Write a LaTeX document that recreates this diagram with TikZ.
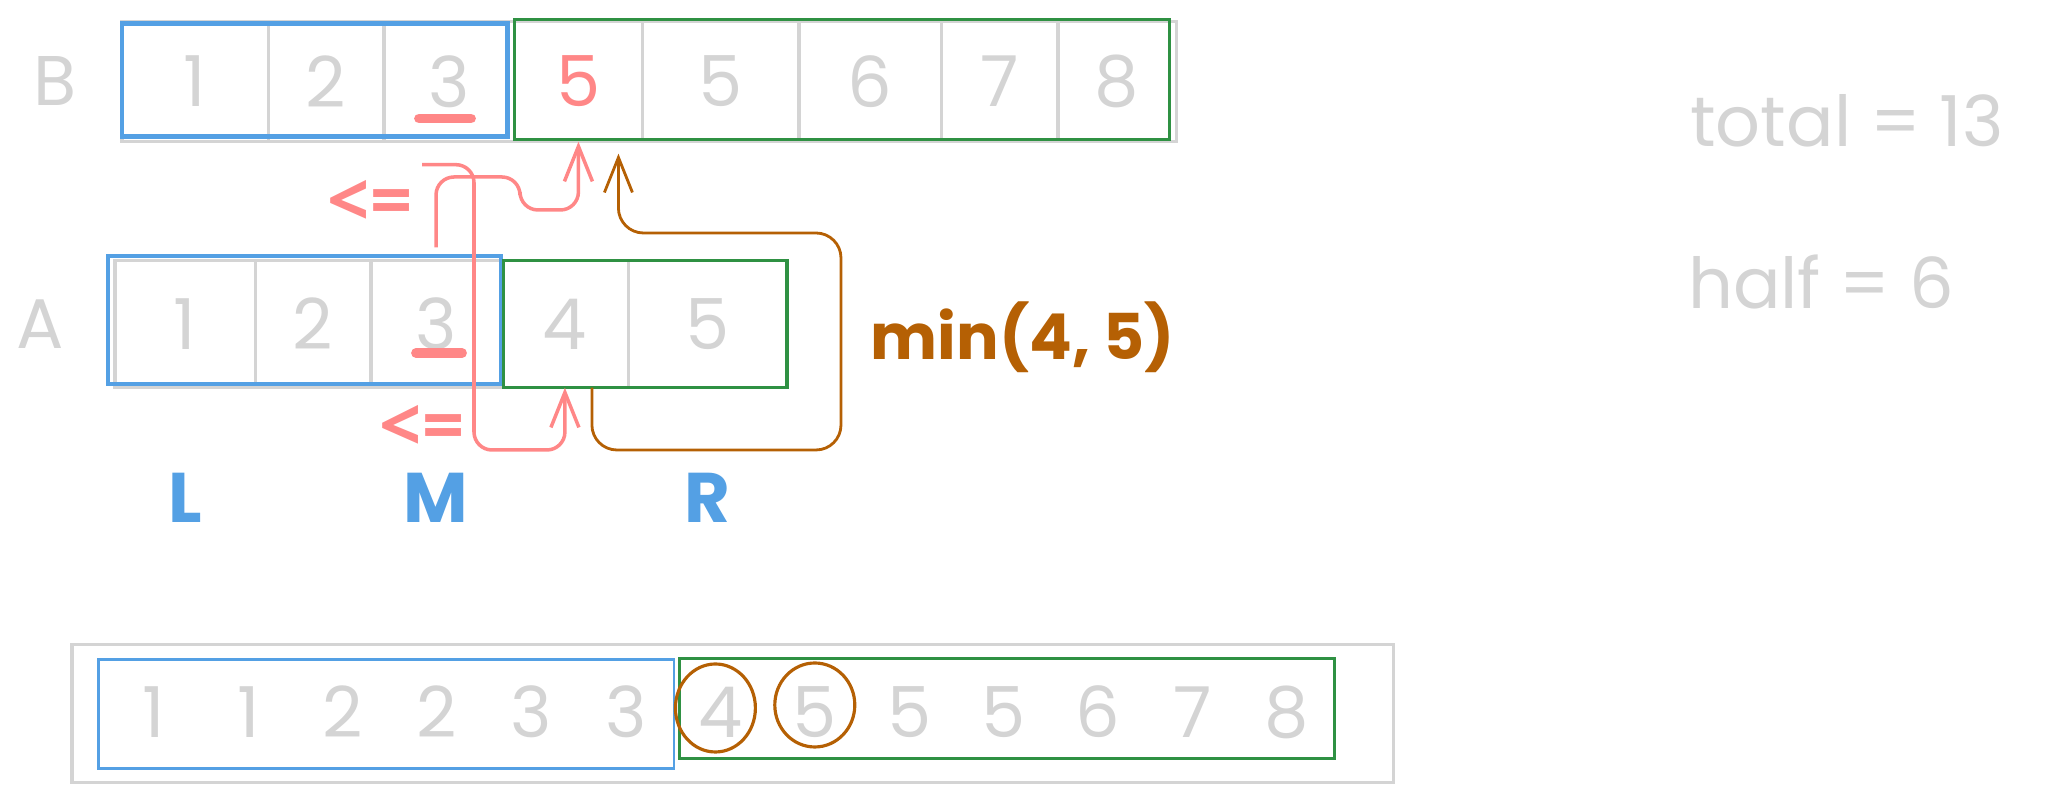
\documentclass[tikz,border=0pt]{standalone}
\usepackage{fontspec}
\setmainfont{Poppins}
\newfontfamily\relfont{Open Sans}
\usepackage{tikz}
\usetikzlibrary{arrows.meta}
\usetikzlibrary{positioning}
\definecolor{skblue}{RGB}{84,160,228}
\definecolor{skgreen}{RGB}{47,145,67}
\definecolor{skred}{RGB}{255,135,135}
\definecolor{skbrown}{RGB}{181,96,4}
\definecolor{skgray}{RGB}{212,212,212}
\newcommand{\handfont}{\fontsize{20}{24}\selectfont}
\tikzstyle{every node}+=[inner sep=0pt]
\tikzstyle{cell} = [rectangle, font=\handfont, text=skgray, minimum height=1.19cm]
\tikzstyle{acell} = [cell, minimum height=1.26cm]
\tikzstyle{mcell} = [cell, minimum width=0.944cm, minimum height=1cm]
\tikzstyle{outline} = [draw=skgray, line width=1pt]
\tikzstyle{divider} = [draw=skgray, line width=1pt]
\tikzstyle{lpart} = [draw=skblue, line width=1.3pt]
\tikzstyle{rpart} = [draw=skgreen, line width=0.9pt]
\tikzstyle{redline} = [draw=skred, line width=1pt, rounded corners=0.18cm, -{Straight Barb[length=3.5mm,width=2.8mm]}]
\tikzstyle{minline} = [draw=skbrown, line width=0.8pt, rounded corners=0.25cm, -{Straight Barb[length=3.5mm,width=2.8mm]}]
\tikzstyle{underbar} = [draw=skred, line width=2.8pt, line cap=round]
\tikzstyle{pickring} = [draw=skbrown, line width=0.9pt]
\tikzstyle{pointer} = [font=\handfont\bfseries, text=skblue]
\tikzstyle{cmp} = [font=\relfont\fontsize{21}{24}\selectfont\bfseries, text=skred]
\tikzstyle{note} = [font=\handfont, text=skgray]

\begin{document}
\begin{tikzpicture}[node distance = 2cm, auto]
            \useasboundingbox (0,0) rectangle (20.49,-8.01);
            % Place nodes: array B
            \node [cell, anchor=west, minimum width=1.45cm] (b1) at (1.22,-0.815) {1};
            \node [cell, right=0pt of b1, minimum width=1.14cm] (b2) {2};
            \node [cell, right=0pt of b2, minimum width=1.29cm] (b3) {3};
            \node [cell, right=0pt of b3, minimum width=1.27cm, text=skred] (b4) {5};
            \node [cell, right=0pt of b4, minimum width=1.55cm] (b5) {5};
            \node [cell, right=0pt of b5, minimum width=1.41cm] (b6) {6};
            \node [cell, right=0pt of b6, minimum width=1.15cm] (b7) {7};
            \node [cell, right=0pt of b7, minimum width=1.17cm] (b8) {8};
            \node [note, left=0.45cm of b1] (bname) {B};
            % array A
            \node [acell, anchor=west, minimum width=1.39cm] (a1) at (1.15,-3.24) {1};
            \node [acell, right=0pt of a1, minimum width=1.14cm] (a2) {2};
            \node [acell, right=0pt of a2, minimum width=1.29cm] (a3) {3};
            \node [acell, right=0pt of a3, minimum width=1.26cm] (a4) {4};
            \node [acell, right=0pt of a4, minimum width=1.57cm] (a5) {5};
            \node [note, left=0.5cm of a1] (aname) {A};
            \node [pointer, below=0.85cm of a1] (lo) {L};
            \node [pointer, below=0.85cm of a3] (mid) {M};
            \node [pointer, below=0.85cm of a5] (hi) {R};
            \node [cmp] (le1) at (3.70,-2.03) {<=};
            \node [cmp] (le2) at (4.22,-4.28) {<=};
            \node [font=\fontsize{18}{22}\selectfont\bfseries, text=skbrown] (minval) at (10.23,-3.37) {min(4, 5)};
            \node [note] (total) at (18.47,-1.21) {total = 13};
            \node [note] (half) at (18.21,-2.82) {half = 6};
            % merged array
            \node [mcell] (c1) at (1.54,-7.12) {1};
            \node [mcell, right of=c1, node distance=0.944cm] (c2) {1};
            \node [mcell, right of=c2, node distance=0.944cm] (c3) {2};
            \node [mcell, right of=c3, node distance=0.944cm] (c4) {2};
            \node [mcell, right of=c4, node distance=0.944cm] (c5) {3};
            \node [mcell, right of=c5, node distance=0.944cm] (c6) {3};
            \node [mcell, right of=c6, node distance=0.944cm] (c7) {4};
            \node [mcell, right of=c7, node distance=0.944cm] (c8) {5};
            \node [mcell, right of=c8, node distance=0.944cm] (c9) {5};
            \node [mcell, right of=c9, node distance=0.944cm] (c10) {5};
            \node [mcell, right of=c10, node distance=0.944cm] (c11) {6};
            \node [mcell, right of=c11, node distance=0.944cm] (c12) {7};
            \node [mcell, right of=c12, node distance=0.944cm] (c13) {8};
            % Draw boxes
            \draw [outline] (b1.north west) rectangle (b8.south east);
            \draw [divider] (b1.north east) -- (b1.south east) (b2.north east) -- (b2.south east)
                (b4.north east) -- (b4.south east) (b5.north east) -- (b5.south east)
                (b6.north east) -- (b6.south east) (b7.north east) -- (b7.south east);
            \draw [lpart] ([yshift=-0.02cm]b1.north west) rectangle ([xshift=-0.07cm,yshift=0.05cm]b3.south east);
            \draw [rpart] ([yshift=0.02cm]b4.north west) rectangle ([xshift=-0.07cm,yshift=0.02cm]b8.south east);
            \draw [outline] (a1.north west) rectangle (a5.south east);
            \draw [divider] (a1.north east) -- (a1.south east) (a2.north east) -- (a2.south east)
                (a4.north east) -- (a4.south east);
            \draw [lpart, line width=1.1pt] ([xshift=-0.07cm,yshift=0.04cm]a1.north west) rectangle ([yshift=0.04cm]a3.south east);
            \draw [rpart] ([xshift=0.02cm]a4.north west) rectangle (a5.south east);
            \draw [outline] ([shift={(-0.34,0.17)}]c1.north west) rectangle ([shift={(0.59,-0.20)}]c13.south east);
            \draw [lpart, line width=0.8pt] ([shift={(-0.08,0.02)}]c1.north west) rectangle ([yshift=-0.06cm]c6.south east);
            \draw [rpart] ([xshift=0.07cm,yshift=0.03cm]c7.north west) rectangle ([yshift=0.04cm]c13.south east);
            \draw [pickring] ([xshift=-0.05cm,yshift=0.04cm]c7.center) ellipse (0.40cm and 0.44cm);
            \draw [pickring] ([yshift=0.07cm]c8.center) ellipse (0.40cm and 0.42cm);
            \draw [underbar] ([xshift=-0.30cm,yshift=-0.37cm]b3.center) -- ([xshift=0.22cm,yshift=-0.37cm]b3.center);
            \draw [underbar] ([xshift=-0.20cm,yshift=-0.29cm]a3.center) -- ([xshift=0.26cm,yshift=-0.29cm]a3.center);
            % Draw edges
            \path [redline] ([yshift=0.13cm]a3.north) |- (5.2,-1.77) -- (5.2,-2.10) -| (b4.south);
            \path [redline] ([xshift=-0.27cm,yshift=-0.23cm]b3.south) -| (4.74,-4.50) -| (a4.south);
            \path [minline] ([xshift=0.27cm]a4.south) |- (8.41,-4.50) -- (8.41,-2.33) -| ([xshift=0.4cm,yshift=-0.12cm]b4.south);
\end{tikzpicture}
\end{document}
